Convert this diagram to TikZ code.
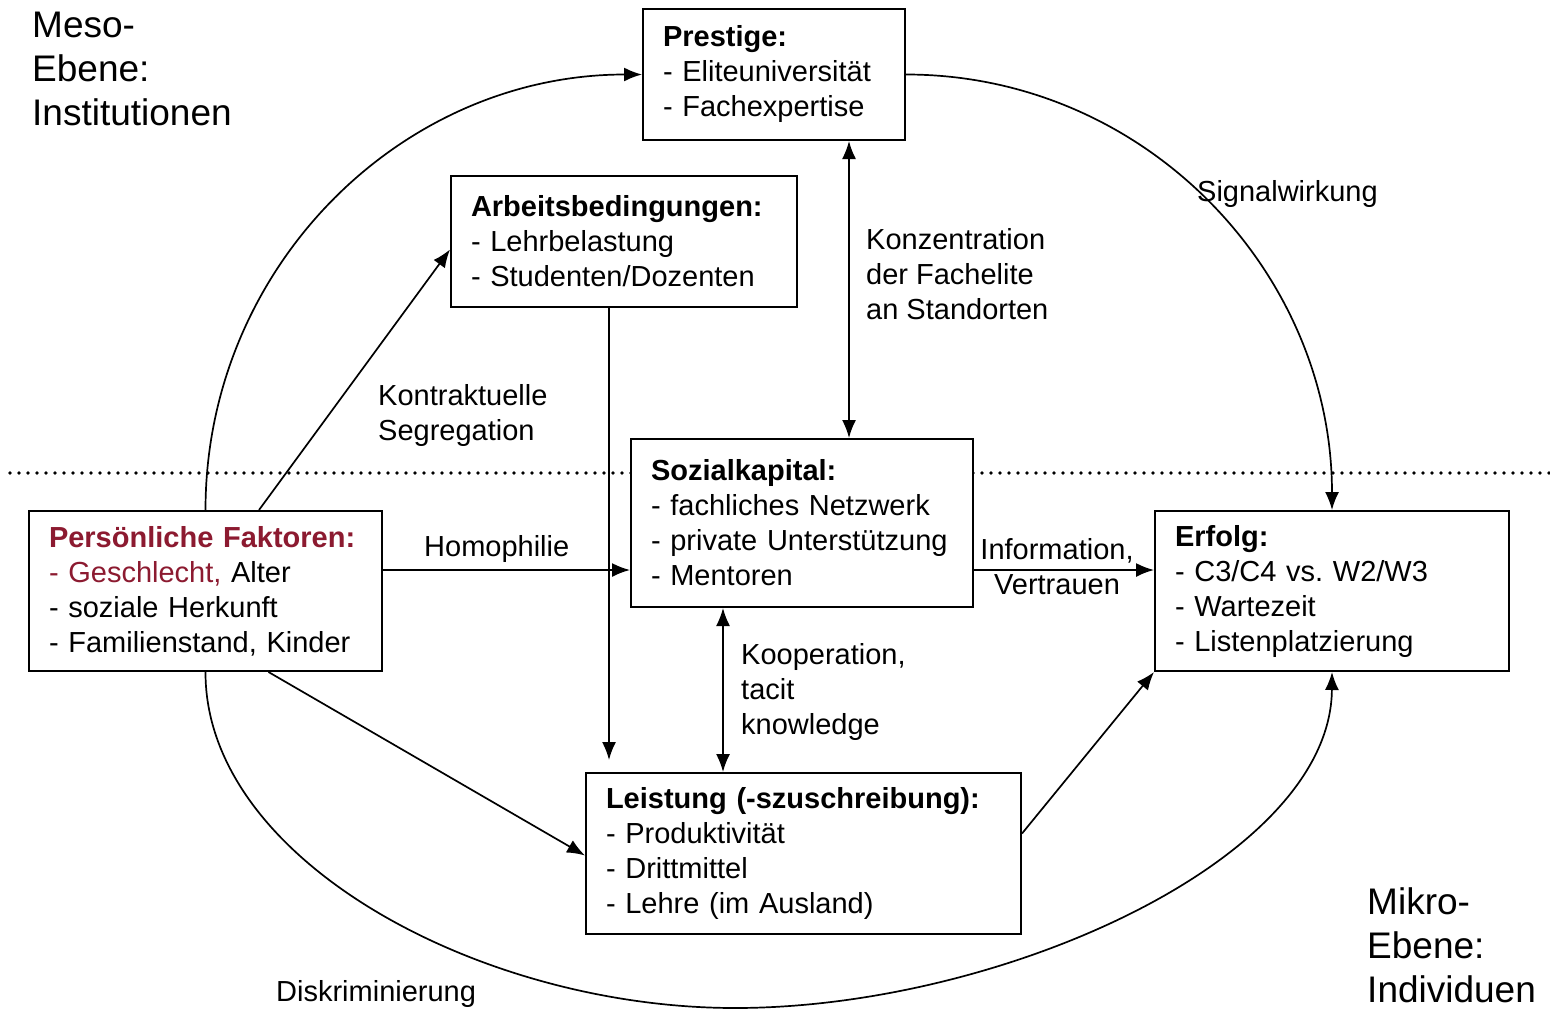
\documentclass[tikz,border=0pt]{standalone}
\usepackage{fontspec}
\setmainfont{Liberation Sans}
\frenchspacing
\usetikzlibrary{arrows.meta}
\usetikzlibrary{positioning}
\definecolor{faktorred}{RGB}{140,26,48}
\tikzset{box/.style = {draw, fill = white, line width = 2pt, anchor = north west, align = left, inner xsep = 20pt, inner ysep = 0pt, font = \fontsize{29}{35}\selectfont}}
\tikzset{lbl/.style = {inner sep = 0pt, anchor = west, align = left, font = \fontsize{29}{35}\selectfont}}
\tikzset{ebene/.style = {inner sep = 0pt, anchor = west, align = left, font = \fontsize{37}{44}\selectfont}}
\tikzset{conn/.style = {line width = 1.7pt, -{Latex[length = 18pt, width = 14pt]}}}
\tikzset{dconn/.style = {line width = 1.7pt, {Latex[length = 18pt, width = 14pt]}-{Latex[length = 18pt, width = 14pt]}}}

\begin{document}
\begin{tikzpicture}[x = 1pt, y = -1pt]
    \useasboundingbox (0, 0) rectangle (1550, 1009);
    % Grenze Meso / Mikro
    \coordinate (grenzeL) at (10, 473);
    \coordinate (grenzeR) at (1550, 473);
    \draw [line width = 3.6pt, line cap = round, dash pattern = on 0pt off 9pt] (grenzeL) -- (grenzeR);

    \node [ebene] (meso) at (32, 69) {Meso-\\Ebene:\\Institutionen};
    \node [ebene] (mikro) at (1367, 945) {Mikro-\\Ebene:\\Individuen};

    \node [box, text width = 222pt, minimum height = 131pt] (prestige) at (642, 8)
        {\textbf{Prestige:}\\- Eliteuniversität\\- Fachexpertise};
    \node [box, text width = 306pt, minimum height = 131pt] (arbeit) at (450, 175)
        {\textbf{Arbeitsbedingungen:}\\- Lehrbelastung\\- Studenten/Dozenten};
    \node [box, text width = 302pt, minimum height = 168pt] (sozial) at (630, 438)
        {\textbf{Sozialkapital:}\\- fachliches Netzwerk\\- private Unterstützung\\- Mentoren};
    \node [box, text width = 313pt, minimum height = 160pt] (person) at (28, 510)
        {\textcolor{faktorred}{\textbf{Persönliche Faktoren:}}\\\textcolor{faktorred}{- Geschlecht,} Alter\\- soziale Herkunft\\- Familienstand, Kinder};
    \node [box, text width = 314pt, minimum height = 160pt] (erfolg) at (1154, 510)
        {\textbf{Erfolg:}\\- C3/C4 vs. W2/W3\\- Wartezeit\\- Listenplatzierung};
    \node [box, text width = 395pt, minimum height = 161pt] (leistung) at (585, 772)
        {\textbf{Leistung (-szuschreibung):}\\- Produktivität\\- Drittmittel\\- Lehre (im Ausland)};

    \coordinate (unten) at (735, 1008);

    % grosse Boegen
    \draw [conn] (person.north) to [out = 90, in = 180] (prestige.west);
    \draw [conn] (prestige.east) to [out = 0, in = 90] (erfolg.north);
    \draw [conn] (person.south) .. controls (205, 860) and (480, 1008) .. (unten)
        .. controls (1000, 1008) and (1331, 860) .. (erfolg.south);

    % Verbindungen
    \draw [conn] ([xshift = 53.5pt]person.north) -- ([yshift = -8pt]arbeit.west);
    \draw [conn] ([yshift = 21pt]person.east) -- ([yshift = -47pt]sozial.west);
    \draw [conn] ([xshift = 63pt]person.south) -- ([yshift = -2pt]leistung.west);
    \draw [conn, shorten > = 12pt] ([xshift = -15pt]arbeit.south) -- ([xshift = -15pt]arbeit.south |- leistung.north);
    \draw [dconn] ([xshift = 75pt]prestige.south) -- ([xshift = 75pt]prestige.south |- sozial.north);
    \draw [dconn] ([xshift = -79pt]sozial.south) -- ([xshift = -79pt]sozial.south |- leistung.north);
    \draw [conn] ([yshift = -47pt]sozial.east) -- ([yshift = 21pt]erfolg.west);
    \draw [conn] ([yshift = 20pt]leistung.east) -- (erfolg.south west);

    % Beschriftungen
    \node [lbl] (signal) at (1197, 194) {Signalwirkung};
    \node [lbl] (konz) at (866, 274) {Konzentration\\der Fachelite\\an Standorten};
    \node [lbl] (kontrakt) at (378, 415) {Kontraktuelle\\Segregation};
    \node [lbl] (homo) at (424, 549) {Homophilie};
    \node [lbl, anchor = center, align = center] (info) at (1057, 567) {Information,\\Vertrauen};
    \node [lbl] (koop) at (741, 692) {Kooperation,\\tacit\\knowledge};
    \node [lbl] (diskr) at (276, 994) {Diskriminierung};
\end{tikzpicture}
\end{document}
